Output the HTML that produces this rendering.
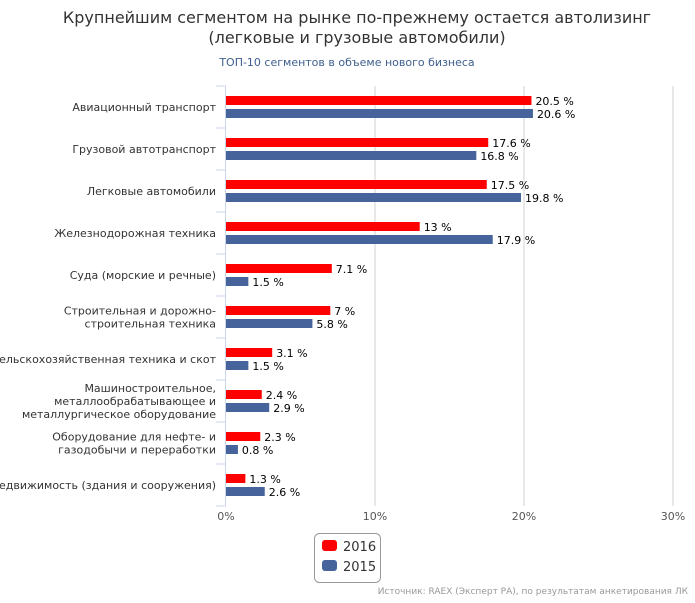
<!DOCTYPE html>
<html><head><meta charset="utf-8"><style>
body{margin:0;background:#fff;font-family:"Liberation Sans","DejaVu Sans",sans-serif;}
svg text{font-family:"DejaVu Sans","Liberation Sans",sans-serif;}
</style></head><body>
<svg width="695" height="598">
<text x="357" y="23" text-anchor="middle" font-size="16" fill="#333">Крупнейшим сегментом на рынке по-прежнему остается автолизинг</text>
<text x="357" y="43" text-anchor="middle" font-size="16" fill="#333">(легковые и грузовые автомобили)</text>
<text x="347" y="66" text-anchor="middle" font-size="11" fill="#3e5f8f">ТОП-10 сегментов в объеме нового бизнеса</text>
<g id="grid"></g><g id="bars"></g><g id="labels"></g>
<g>
<rect x="314.5" y="533.5" width="66" height="49" rx="5" fill="#fff" stroke="#999"/>
<rect x="322" y="540" width="15" height="11" rx="3" fill="#ff0000"/>
<text x="343" y="551" font-size="13" fill="#333">2016</text>
<rect x="322" y="560" width="15" height="11" rx="3" fill="#46649b"/>
<text x="343" y="571" font-size="13" fill="#333">2015</text>
</g>
<text x="688" y="594" text-anchor="end" font-size="9" fill="#999">Источник: RAEX (Эксперт РА), по результатам анкетирования ЛК</text>
</svg>
<script>
const categories=[["Авиационный транспорт"],["Грузовой автотранспорт"],["Легковые автомобили"],["Железнодорожная техника"],["Суда (морские и речные)"],["Строительная и дорожно-","строительная техника"],["Сельскохозяйственная техника и скот"],["Машиностроительное,","металлообрабатывающее и","металлургическое оборудование"],["Оборудование для нефте- и","газодобычи и переработки"],["Недвижимость (здания и сооружения)"]];
const values2016=[20.5,17.6,17.5,13,7.1,7,3.1,2.4,2.3,1.3];
const values2015=[20.6,16.8,19.8,17.9,1.5,5.8,1.5,2.9,0.8,2.6];
const ticks=[0,10,20,30];
const NS="http://www.w3.org/2000/svg";
const x0=226,x1=673,top0=86,bot=506,max=30;
const xs=v=>x0+(x1-x0)*v/max;
const band=(bot-top0)/categories.length;
function mk(p,tag,a,t){const e=document.createElementNS(NS,tag);for(const k in a)e.setAttribute(k,a[k]);if(t!=null)e.textContent=t;p.appendChild(e);return e;}
const g=document.getElementById('grid'),b=document.getElementById('bars'),l=document.getElementById('labels');
ticks.forEach(t=>{
 if(t>0){const ln=mk(g,'line',{x1:xs(t),x2:xs(t),y1:top0,y2:bot,stroke:'#d0d0d0'});
 }
 const tx=mk(g,'text',{x:xs(t),y:bot+14,'text-anchor':'middle','font-size':11,fill:'#555'},t+'%');
 
});
const ax=mk(g,'line',{x1:x0-0.5,x2:x0-0.5,y1:top0,y2:bot,stroke:'#ccd6eb'});

for(let i=0;i<=categories.length;i++){const y=top0+i*band;
 const tk=mk(g,'line',{x1:x0-10,x2:x0,y1:y,y2:y,stroke:'#ccd6eb'});
 }
categories.forEach((c,i)=>{
 const cy=top0+band*(i+0.5);
 const lab=mk(l,'text',{'text-anchor':'end','font-size':11,fill:'#333'});
 
 const n=c.length;
 c.forEach((s,j)=>{mk(lab,'tspan',{x:216,y:cy+4+(j-(n-1)/2)*13},s);});
 [[values2016[i],'#ff0000',-11,'bar-2016'],[values2015[i],'#46649b',2,'bar-2015']].forEach(([v,col,off,nm])=>{
  const r=mk(b,'rect',{x:x0,y:cy+off,width:xs(v)-x0,height:9,fill:col});
  
  const t=mk(l,'text',{x:xs(v)+4,y:cy+off+9,'font-size':11,fill:'#000'},String(v)+' %');
  
 });
});
</script>
</body></html>
